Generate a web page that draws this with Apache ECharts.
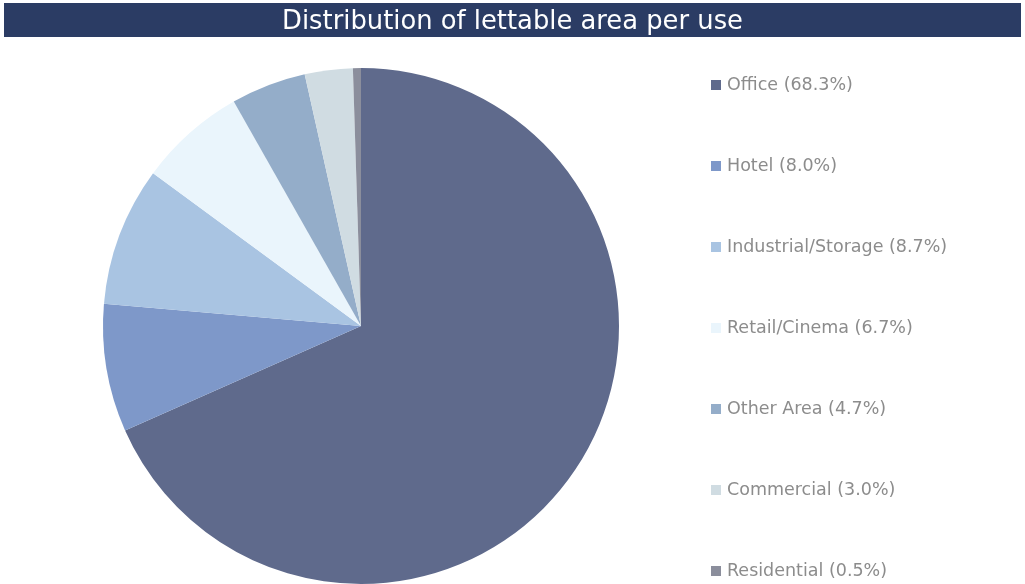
<!DOCTYPE html>
<html>
<head>
<meta charset="utf-8">
<script src="https://cdn.jsdelivr.net/npm/echarts@6/dist/echarts.min.js"></script>
<style>
  html, body { margin: 0; padding: 0; background: #ffffff; }
  #chart { width: 1025px; height: 584px; }
</style>
</head>
<body>
<div id="chart"></div>
<script>
// Share of lettable area by use (percent)
const uses = ['Office', 'Hotel', 'Industrial/Storage', 'Retail/Cinema', 'Other Area', 'Commercial', 'Residential'];
const shares = [68.3, 8.0, 8.7, 6.7, 4.7, 3.0, 0.5];
const sliceColors = ['#5F6A8C', '#7E98C9', '#A9C4E2', '#EAF5FC', '#94ADC9', '#D0DCE2', '#8B8E9C'];

const FONT = '"DejaVu Sans", "Liberation Sans", Arial, sans-serif';
const shareOf = Object.fromEntries(uses.map((u, i) => [u, shares[i]]));

const chart = echarts.init(document.getElementById('chart'), null, { renderer: 'canvas' });
chart.setOption({
  animation: false,
  color: sliceColors,
  graphic: [{
    type: 'rect',
    left: 4, top: 3,
    shape: { width: 1017, height: 34 },
    style: { fill: '#2B3C64' },
    z: 0
  }],
  title: {
    text: 'Distribution of lettable area per use',
    left: 'center',
    top: 4,
    textStyle: { color: '#ffffff', fontFamily: FONT, fontSize: 25.8, fontWeight: 'normal' },
    z: 10
  },
  legend: {
    orient: 'vertical',
    left: 706,
    top: 70,
    height: 520,
    itemWidth: 10,
    itemHeight: 10,
    itemGap: 61,
    icon: 'rect',
    data: uses,
    formatter: name => name + ' (' + shareOf[name].toFixed(1) + '%)',
    textStyle: { color: '#8C8C8C', fontFamily: FONT, fontSize: 17.5, lineHeight: 20, padding: [0, 0, 0, 1] }
  },
  series: [{
    type: 'pie',
    center: [361, 326],
    radius: 258,
    startAngle: 90,
    clockwise: true,
    label: { show: false },
    labelLine: { show: false },
    emphasis: { disabled: true },
    itemStyle: { borderWidth: 0 },
    data: uses.map((u, i) => ({ name: u, value: shares[i] }))
  }]
});
</script>
</body>
</html>
